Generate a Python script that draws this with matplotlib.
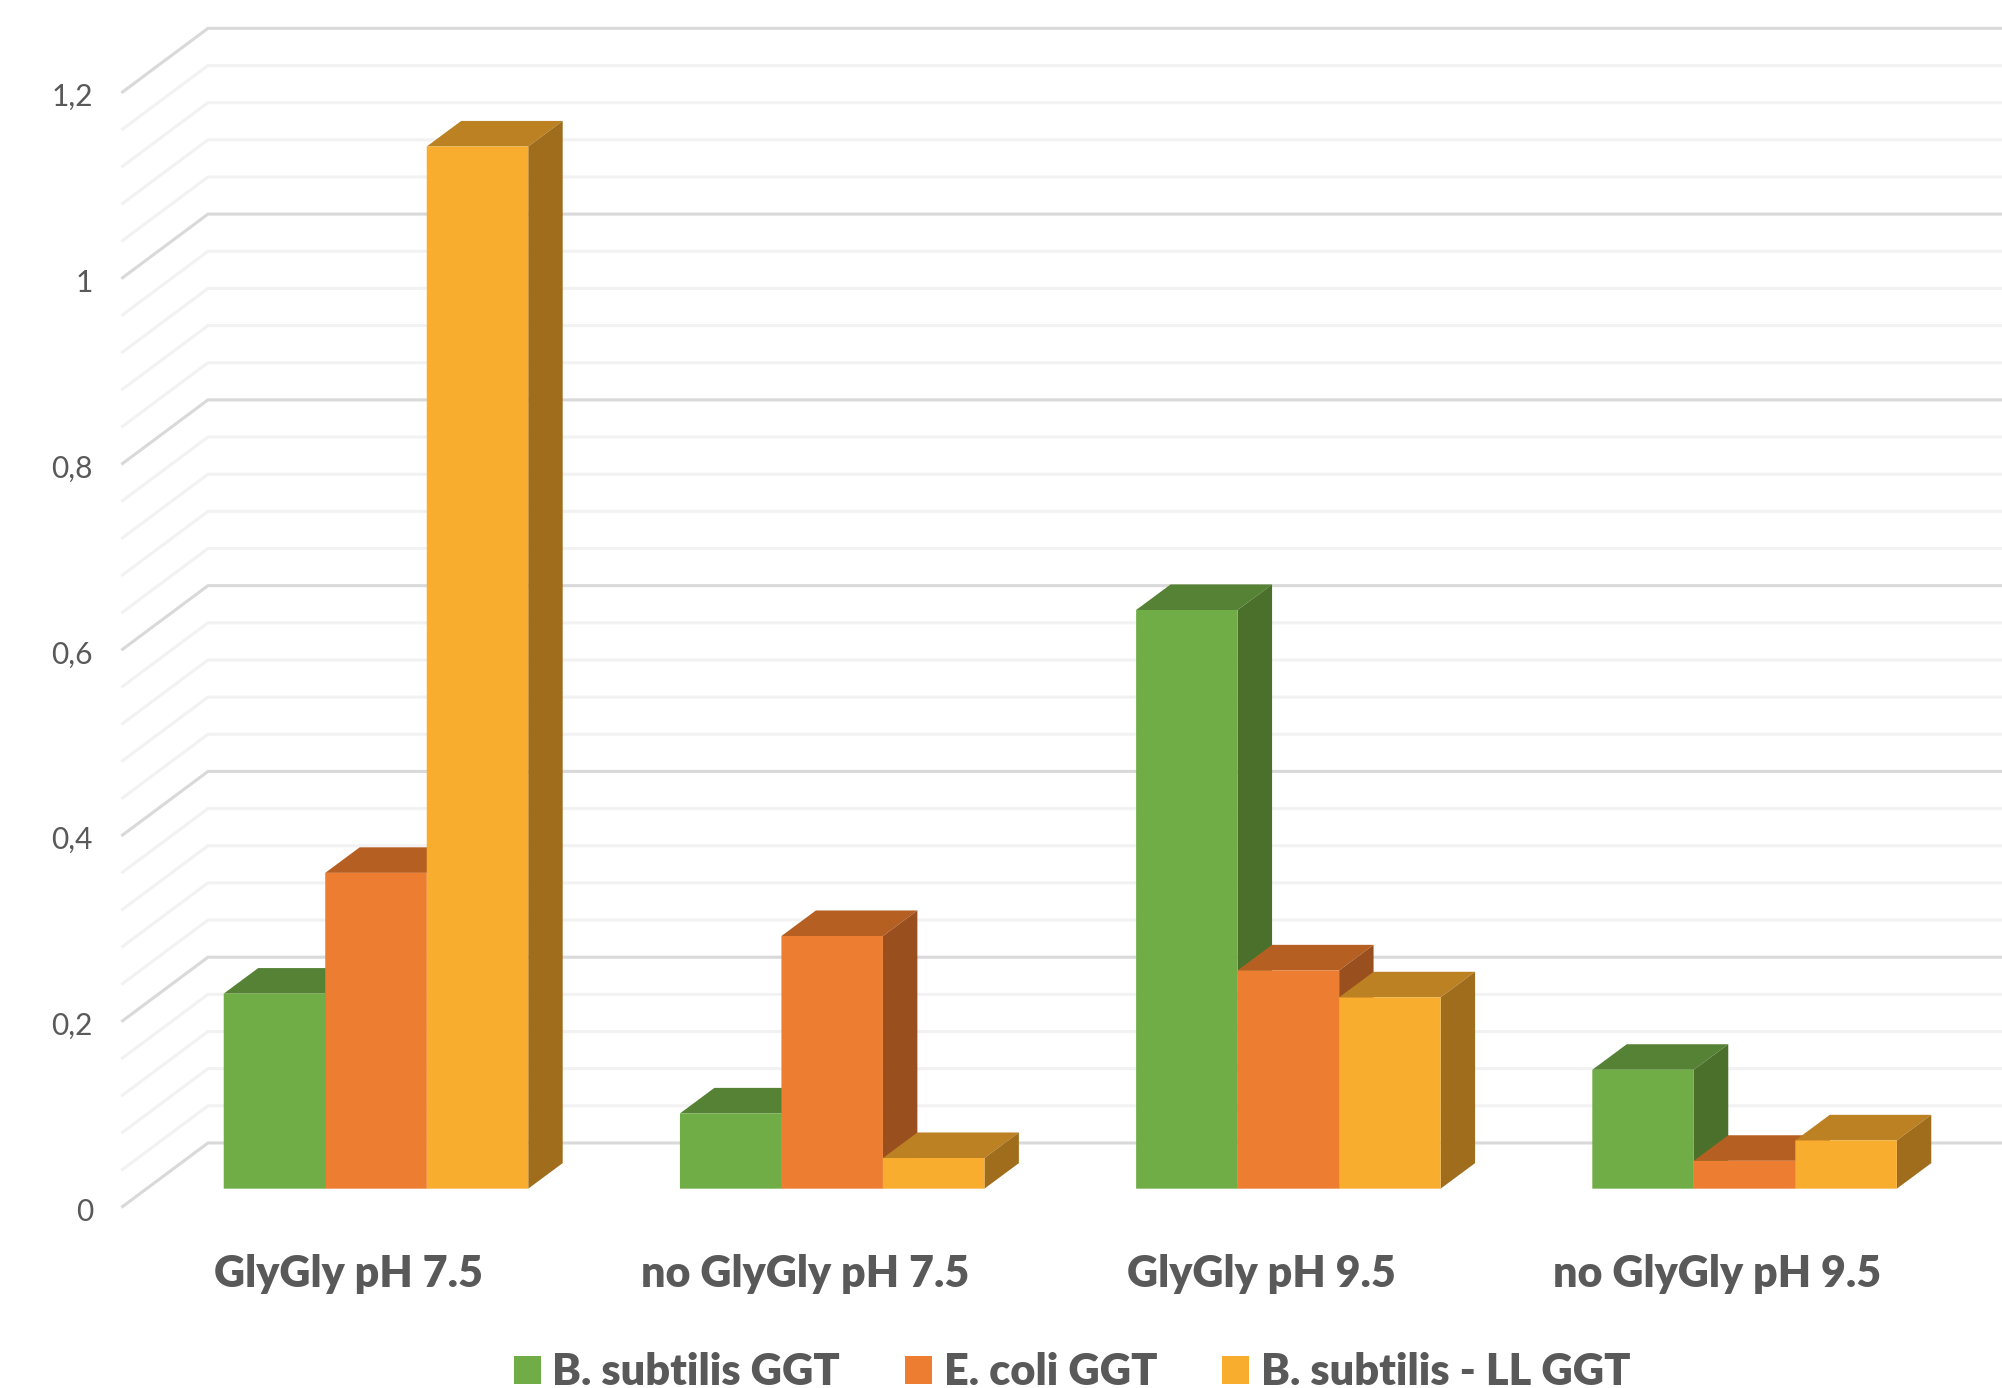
import matplotlib
matplotlib.use('Agg')
import matplotlib.pyplot as plt
from matplotlib.patches import Patch, Polygon
import numpy as np

plt.rcParams['font.family'] = ['Lato', 'DejaVu Sans']

categories = ['GlyGly pH 7.5', 'no GlyGly pH 7.5', 'GlyGly pH 9.5', 'no GlyGly pH 9.5']
series_names = ['B. subtilis GGT', 'E. coli GGT', 'B. subtilis - LL GGT']
bs_ggt = [0.21, 0.081, 0.623, 0.128]
ec_ggt = [0.34, 0.272, 0.235, 0.03]
ll_ggt = [1.122, 0.033, 0.206, 0.052]
y_ticks = [0, 0.2, 0.4, 0.6, 0.8, 1, 1.2]
y_tick_labels = ['0', '0,2', '0,4', '0,6', '0,8', '1', '1,2']
minor_step = 0.04

front_colors = ['#70AD47', '#ED7D31', '#F8AD2F']
top_colors = ['#568235', '#B56022', '#BC8123']
side_colors = ['#4A702B', '#9A4F1E', '#A06D1C']

text_color = '#595959'
major_grid = '#D9D9D9'
minor_grid = '#F2F2F2'

# 3d look: bar depth and floor depth, in data units
bar_width = 0.2225
bar_dx, bar_dy = 0.0755, 0.0275
wall_x0, wall_y0 = -0.3683, 0.0492
front_x0, front_y0 = -0.5555, -0.0193

fig = plt.figure(figsize=(20.02, 13.88), dpi=100)
ax = fig.add_axes([0, 0, 1, 1])
ax.set_xlim(-0.8242, 3.5643)
ax.set_ylim(-0.2146, 1.2797)
ax.axis('off')

# gridlines: back wall plus the slanted part on the left wall
for i in range(31):
    v = i * minor_step
    is_major = i % 5 == 0
    c = major_grid if is_major else minor_grid
    ax.plot([front_x0, wall_x0, 3.5643], [v + front_y0, v + wall_y0, v + wall_y0],
            color=c, lw=2.2, solid_joinstyle='miter', zorder=1)

for v, lab in zip(y_ticks, y_tick_labels):
    ax.text(front_x0 - 0.065, v + front_y0 - 0.0055, lab, ha='right', va='center',
            fontsize=21.5, color=text_color)

# bars, left to right so each front covers the neighbour's side
values = [bs_ggt, ec_ggt, ll_ggt]
z = 2
for g in range(len(categories)):
    for s in range(3):
        h = values[s][g]
        x0 = g + (s - 1.5) * bar_width
        x1 = x0 + bar_width
        ax.add_patch(Polygon([(x0, h), (x1, h), (x1 + bar_dx, h + bar_dy), (x0 + bar_dx, h + bar_dy)],
                             fc=top_colors[s], ec='none', zorder=z))
        ax.add_patch(Polygon([(x1, 0), (x1 + bar_dx, bar_dy), (x1 + bar_dx, h + bar_dy), (x1, h)],
                             fc=side_colors[s], ec='none', zorder=z))
        ax.bar(x0, h, width=bar_width, align='edge', color=front_colors[s], zorder=z + 0.5, snap=False)
        z += 1

for g, name in enumerate(categories):
    ax.text(g - 0.06, -0.0918, name, ha='center', va='center', fontsize=31,
            fontweight='heavy', color=text_color)

handles = [Patch(fc=c, ec='none') for c in front_colors]
ax.legend(handles, series_names, loc='center', bbox_to_anchor=(0.5355, 0.0115),
          ncol=3, frameon=False, labelcolor=text_color,
          prop={'weight': 'heavy', 'size': 31.2},
          handlelength=0.62, handleheight=0.62, handletextpad=0.27, columnspacing=1.5,
          borderaxespad=0, borderpad=0)

fig.savefig('out.png', dpi=100)
